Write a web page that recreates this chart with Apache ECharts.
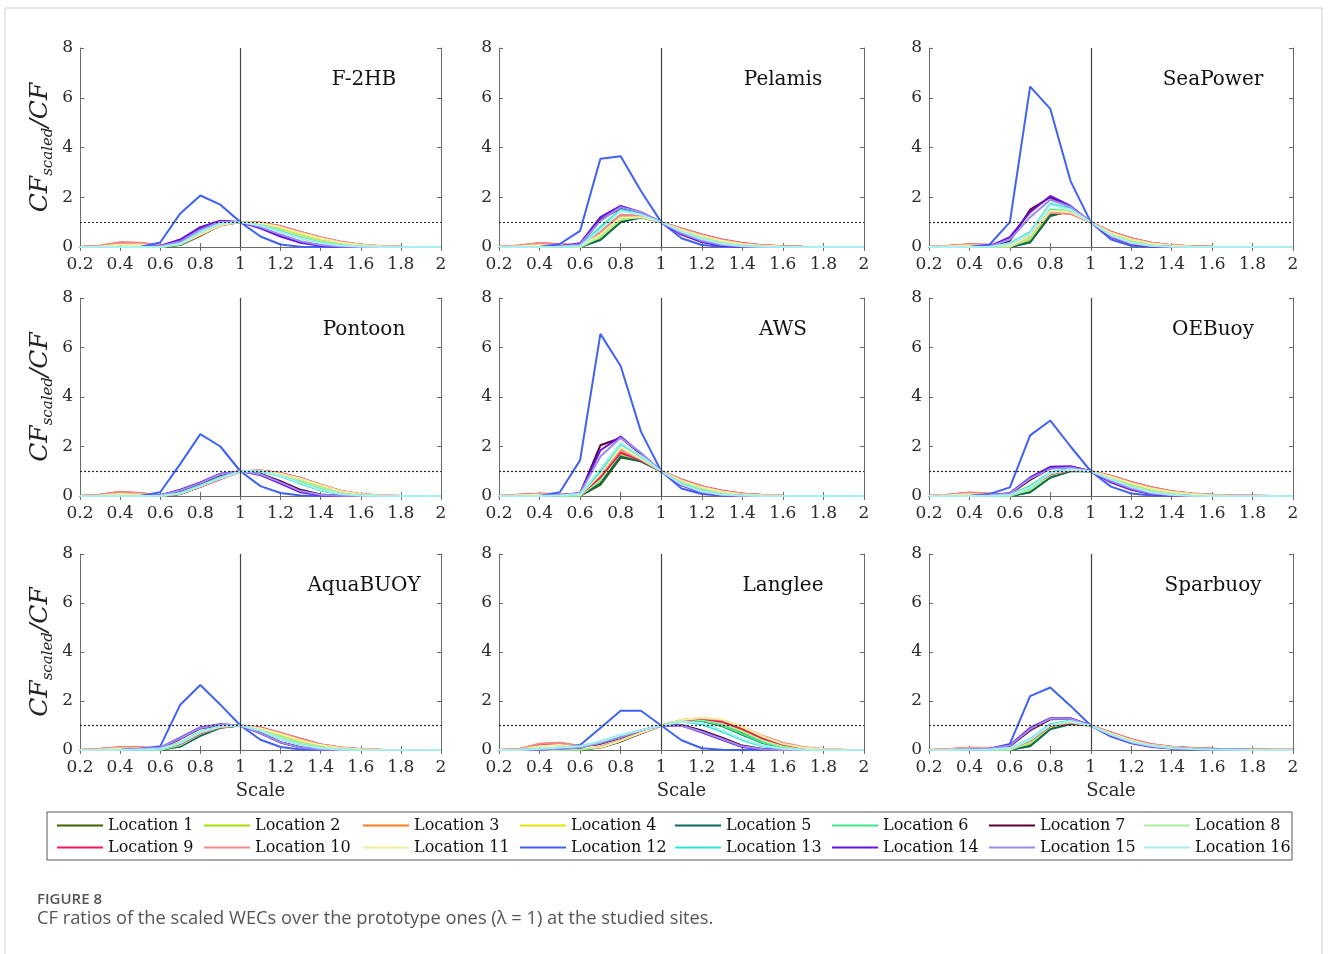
<!DOCTYPE html>
<html><head><meta charset="utf-8">
<script src="https://cdn.jsdelivr.net/npm/echarts@6/dist/echarts.min.js"></script>
<style>html,body{margin:0;padding:0;background:#fff}#c{width:1328px;height:954px}</style>
</head><body><div id="c"></div>
<script>
// ---------------- DATA ----------------
const scales = [0.2,0.3,0.4,0.5,0.6,0.7,0.8,0.9,1.0,1.1,1.2,1.3,1.4,1.5,1.6,1.7,1.8,1.9,2.0];
const xTicks = [0.2,0.4,0.6,0.8,1,1.2,1.4,1.6,1.8,2];
const yTicks = [0,2,4,6,8];
const locations = ['Location 1','Location 2','Location 3','Location 4','Location 5','Location 6','Location 7','Location 8',
  'Location 9','Location 10','Location 11','Location 12','Location 13','Location 14','Location 15','Location 16'];
const colors = ['#3f5c00','#a6e000','#ff7a1a','#e4e400','#0b6b5c','#3ee68a','#5c0036','#a8f0a0',
  '#f0145a','#f08a8a','#f0f0a0','#3f63f0','#2de6d2','#6a10e6','#9c8cf0','#a8f0f0'];
const panelNames = ['F-2HB','Pelamis','SeaPower','Pontoon','AWS','OEBuoy','AquaBUOY','Langlee','Sparbuoy'];

// each panel: 16 rows (Location 1..16), 19 values over scales
const F2HB = [
[0,0,0,0,0,0.08,0.45,0.88,1,0.92,0.7,0.45,0.25,0.1,0.03,0.01,0,0,0],
[0,0,0,0,0,0.1,0.5,0.9,1,0.9,0.68,0.42,0.22,0.09,0.03,0.01,0,0,0],
[0,0.05,0.18,0.15,0.05,0.12,0.5,0.88,1,0.97,0.82,0.58,0.37,0.2,0.09,0.03,0.01,0,0],
[0,0,0.01,0.01,0,0.1,0.48,0.9,1,0.93,0.72,0.47,0.26,0.11,0.04,0.01,0,0,0],
[0,0,0,0,0,0.09,0.5,0.92,1,0.9,0.66,0.4,0.2,0.08,0.02,0,0,0,0],
[0,0,0,0,0,0.12,0.55,0.93,1,0.88,0.64,0.38,0.19,0.07,0.02,0,0,0,0],
[0,0,0,0,0.03,0.25,0.75,1.05,1,0.78,0.45,0.2,0.07,0.02,0,0,0,0,0],
[0,0,0,0,0,0.11,0.52,0.9,1,0.91,0.69,0.44,0.23,0.1,0.03,0.01,0,0,0],
[0,0.04,0.17,0.16,0.06,0.13,0.48,0.87,1,0.98,0.84,0.6,0.38,0.2,0.09,0.03,0.01,0,0],
[0,0.05,0.19,0.17,0.07,0.14,0.5,0.86,1,0.99,0.83,0.6,0.39,0.22,0.1,0.04,0.01,0,0],
[0,0.02,0.1,0.1,0.04,0.12,0.5,0.88,1,0.96,0.8,0.56,0.35,0.18,0.08,0.03,0.01,0,0],
[0,0,0,0,0.18,1.35,2.07,1.7,1,0.42,0.1,0.01,0,0,0,0,0,0,0],
[0,0,0,0,0.01,0.15,0.6,0.95,1,0.87,0.62,0.36,0.17,0.06,0.02,0,0,0,0],
[0,0,0,0,0.04,0.3,0.8,1.06,1,0.75,0.42,0.17,0.05,0.01,0,0,0,0,0],
[0,0,0,0,0.03,0.22,0.7,1.02,1,0.8,0.5,0.23,0.08,0.02,0,0,0,0,0],
[0,0,0,0,0,0.13,0.58,0.94,1,0.86,0.6,0.35,0.16,0.06,0.02,0,0,0,0]];

const Pelamis = [
[0,0,0,0,0,0.3,1.0,1.2,1,0.66,0.38,0.18,0.07,0.02,0.01,0,0,0,0],
[0,0,0,0,0,0.35,1.05,1.2,1,0.65,0.37,0.17,0.07,0.02,0.01,0,0,0,0],
[0,0.05,0.14,0.1,0.05,0.6,1.3,1.25,1,0.72,0.47,0.27,0.14,0.06,0.03,0.01,0,0,0],
[0,0,0,0,0,0.4,1.1,1.22,1,0.67,0.4,0.2,0.08,0.03,0.01,0,0,0,0],
[0,0,0,0,0,0.28,1.0,1.18,1,0.64,0.36,0.16,0.06,0.02,0,0,0,0,0],
[0,0,0,0,0,0.45,1.15,1.22,1,0.64,0.36,0.16,0.06,0.02,0,0,0,0,0],
[0,0,0,0.02,0.08,1.1,1.55,1.35,1,0.52,0.22,0.06,0.01,0,0,0,0,0,0],
[0,0,0,0,0,0.42,1.12,1.21,1,0.66,0.38,0.18,0.07,0.02,0.01,0,0,0,0],
[0,0.06,0.15,0.11,0.05,0.55,1.25,1.25,1,0.75,0.5,0.3,0.16,0.07,0.03,0.01,0,0,0],
[0,0.06,0.16,0.12,0.06,0.6,1.3,1.25,1,0.74,0.49,0.29,0.15,0.07,0.03,0.01,0,0,0],
[0,0.03,0.08,0.06,0.03,0.5,1.2,1.2,1,0.7,0.45,0.25,0.12,0.05,0.02,0.01,0,0,0],
[0,0,0,0.12,0.65,3.55,3.65,2.25,1,0.35,0.08,0.01,0,0,0,0,0,0,0],
[0,0,0,0.01,0.05,0.8,1.5,1.35,1,0.6,0.3,0.12,0.04,0.01,0,0,0,0,0],
[0,0,0,0.03,0.15,1.2,1.65,1.4,1,0.5,0.2,0.05,0.01,0,0,0,0,0,0],
[0,0,0,0.02,0.1,1.05,1.6,1.4,1,0.55,0.25,0.08,0.02,0,0,0,0,0,0],
[0,0,0,0.01,0.04,0.7,1.45,1.3,1,0.62,0.32,0.13,0.04,0.01,0,0,0,0,0]];

const SeaPower = [
[0,0,0,0,0,0.2,1.25,1.45,1,0.5,0.22,0.08,0.02,0.01,0,0,0,0,0],
[0,0,0,0,0,0.3,1.35,1.48,1,0.5,0.22,0.08,0.02,0.01,0,0,0,0,0],
[0,0.04,0.1,0.08,0.06,0.5,1.4,1.35,1,0.6,0.33,0.16,0.07,0.03,0.01,0,0,0,0],
[0,0,0,0,0,0.35,1.4,1.48,1,0.52,0.24,0.09,0.03,0.01,0,0,0,0,0],
[0,0,0,0,0,0.18,1.28,1.45,1,0.49,0.2,0.07,0.02,0,0,0,0,0,0],
[0,0,0,0,0.02,0.4,1.5,1.5,1,0.48,0.2,0.07,0.02,0,0,0,0,0,0],
[0,0,0,0.02,0.25,1.5,2.0,1.6,1,0.42,0.13,0.03,0,0,0,0,0,0,0],
[0,0,0,0,0.01,0.35,1.45,1.5,1,0.5,0.21,0.08,0.02,0.01,0,0,0,0,0],
[0,0.05,0.1,0.08,0.05,0.45,1.42,1.35,1,0.62,0.35,0.17,0.07,0.03,0.01,0,0,0,0],
[0,0.05,0.11,0.09,0.06,0.5,1.38,1.33,1,0.61,0.34,0.17,0.07,0.03,0.01,0,0,0,0],
[0,0.03,0.06,0.05,0.04,0.45,1.45,1.4,1,0.57,0.3,0.14,0.06,0.02,0.01,0,0,0,0],
[0,0,0,0.1,1.0,6.45,5.55,2.65,1,0.3,0.05,0.01,0,0,0,0,0,0,0],
[0,0,0,0.01,0.15,0.6,1.75,1.55,1,0.45,0.16,0.05,0.01,0,0,0,0,0,0],
[0,0,0,0.03,0.4,1.4,2.05,1.65,1,0.4,0.12,0.03,0,0,0,0,0,0,0],
[0,0,0,0.02,0.3,1.2,1.9,1.62,1,0.43,0.14,0.04,0.01,0,0,0,0,0,0],
[0,0,0,0.01,0.12,0.55,1.7,1.5,1,0.47,0.17,0.05,0.01,0,0,0,0,0,0]];

const Pontoon = [
[0,0,0,0,0,0.08,0.38,0.72,1,1.0,0.86,0.62,0.35,0.14,0.04,0.01,0,0,0],
[0,0,0,0,0,0.1,0.4,0.73,1,1.0,0.85,0.6,0.33,0.13,0.04,0.01,0,0,0],
[0,0.04,0.15,0.1,0.02,0.1,0.38,0.7,1,1.02,0.92,0.72,0.45,0.2,0.07,0.02,0,0,0],
[0,0,0,0,0,0.1,0.4,0.72,1,1.01,0.88,0.66,0.4,0.17,0.05,0.01,0,0,0],
[0,0,0,0,0,0.08,0.38,0.72,1,0.99,0.84,0.58,0.3,0.11,0.03,0,0,0,0],
[0,0,0,0,0,0.11,0.42,0.74,1,0.99,0.83,0.57,0.3,0.11,0.03,0,0,0,0],
[0,0,0,0,0.02,0.2,0.5,0.85,1,0.9,0.6,0.25,0.06,0.01,0,0,0,0,0],
[0,0,0,0,0,0.1,0.41,0.73,1,1.0,0.86,0.62,0.35,0.14,0.04,0.01,0,0,0],
[0,0.05,0.16,0.11,0.02,0.09,0.37,0.68,1,1.03,0.93,0.73,0.46,0.2,0.07,0.02,0,0,0],
[0,0.05,0.17,0.12,0.03,0.1,0.38,0.7,1,1.02,0.92,0.72,0.46,0.21,0.08,0.02,0,0,0],
[0,0.02,0.08,0.06,0.01,0.1,0.4,0.72,1,1.02,0.9,0.7,0.44,0.19,0.07,0.02,0,0,0],
[0,0,0,0,0.15,1.3,2.5,2.0,1,0.4,0.12,0.02,0,0,0,0,0,0,0],
[0,0,0,0,0.01,0.12,0.42,0.75,1,1.0,0.8,0.5,0.22,0.07,0.02,0,0,0,0],
[0,0,0,0,0.03,0.25,0.55,0.9,1,0.85,0.5,0.15,0.03,0,0,0,0,0,0],
[0,0,0,0,0.03,0.22,0.52,0.88,1,0.88,0.55,0.2,0.05,0.01,0,0,0,0,0],
[0,0,0,0,0.01,0.1,0.4,0.72,1,1.0,0.82,0.53,0.25,0.08,0.02,0,0,0,0]];

const AWS = [
[0,0,0,0,0.01,0.45,1.55,1.4,1,0.56,0.27,0.1,0.03,0.01,0,0,0,0,0],
[0,0,0,0,0.01,0.6,1.7,1.45,1,0.56,0.27,0.1,0.03,0.01,0,0,0,0,0],
[0,0.04,0.08,0.07,0.05,0.8,1.8,1.45,1,0.65,0.38,0.2,0.09,0.04,0.01,0,0,0,0],
[0,0,0,0,0.01,0.7,1.8,1.48,1,0.58,0.29,0.11,0.03,0.01,0,0,0,0,0],
[0,0,0,0,0.01,0.5,1.6,1.4,1,0.55,0.26,0.1,0.03,0.01,0,0,0,0,0],
[0,0,0,0,0.02,0.75,1.9,1.5,1,0.54,0.25,0.09,0.03,0.01,0,0,0,0,0],
[0,0,0,0.03,0.1,2.05,2.35,1.7,1,0.45,0.15,0.04,0.01,0,0,0,0,0,0],
[0,0,0,0,0.02,0.65,1.75,1.46,1,0.56,0.27,0.1,0.03,0.01,0,0,0,0,0],
[0,0.05,0.09,0.08,0.05,0.75,1.75,1.45,1,0.67,0.4,0.21,0.1,0.04,0.01,0,0,0,0],
[0,0.05,0.09,0.08,0.06,0.85,1.85,1.48,1,0.66,0.39,0.2,0.09,0.04,0.01,0,0,0,0],
[0,0.03,0.05,0.05,0.04,0.9,1.95,1.5,1,0.62,0.35,0.17,0.07,0.03,0.01,0,0,0,0],
[0,0,0,0.15,1.45,6.55,5.25,2.6,1,0.3,0.08,0.01,0,0,0,0,0,0,0],
[0,0,0,0.02,0.08,1.0,2.1,1.6,1,0.5,0.2,0.06,0.02,0,0,0,0,0,0],
[0,0,0,0.03,0.12,1.85,2.4,1.72,1,0.43,0.14,0.04,0.01,0,0,0,0,0,0],
[0,0,0,0.03,0.12,1.6,2.35,1.75,1,0.45,0.15,0.04,0.01,0,0,0,0,0,0],
[0,0,0,0.02,0.08,1.1,2.15,1.62,1,0.48,0.19,0.06,0.02,0,0,0,0,0,0]];

const OEBuoy = [
[0,0,0,0,0,0.15,0.75,1.02,1,0.72,0.43,0.21,0.08,0.03,0.01,0,0,0,0],
[0,0,0,0,0,0.2,0.8,1.03,1,0.72,0.42,0.2,0.08,0.03,0.01,0,0,0,0],
[0,0.05,0.12,0.08,0.04,0.42,0.9,1.05,1,0.8,0.55,0.33,0.18,0.09,0.04,0.02,0.01,0,0],
[0,0,0,0,0.01,0.25,0.85,1.05,1,0.74,0.45,0.23,0.09,0.03,0.01,0,0,0,0],
[0,0,0,0,0,0.15,0.75,1.0,1,0.7,0.4,0.19,0.07,0.02,0.01,0,0,0,0],
[0,0,0,0,0.01,0.3,0.88,1.06,1,0.7,0.4,0.19,0.07,0.02,0.01,0,0,0,0],
[0,0,0,0.02,0.08,0.65,1.12,1.18,1,0.58,0.27,0.09,0.02,0,0,0,0,0,0],
[0,0,0,0,0.01,0.25,0.85,1.04,1,0.72,0.42,0.21,0.08,0.03,0.01,0,0,0,0],
[0,0.05,0.13,0.09,0.04,0.38,0.88,1.04,1,0.82,0.57,0.35,0.19,0.1,0.05,0.02,0.01,0,0],
[0,0.06,0.14,0.1,0.05,0.4,0.9,1.05,1,0.81,0.56,0.34,0.19,0.1,0.05,0.02,0.01,0,0],
[0,0.03,0.07,0.05,0.03,0.45,0.92,1.06,1,0.78,0.52,0.3,0.16,0.08,0.03,0.01,0,0,0],
[0,0,0,0.08,0.35,2.45,3.05,2.0,1,0.38,0.1,0.02,0,0,0,0,0,0,0],
[0,0,0,0.01,0.04,0.4,0.95,1.1,1,0.65,0.35,0.14,0.04,0.01,0,0,0,0,0],
[0,0,0,0.03,0.12,0.75,1.18,1.2,1,0.55,0.25,0.08,0.02,0,0,0,0,0,0],
[0,0,0,0.03,0.1,0.7,1.1,1.15,1,0.6,0.3,0.1,0.03,0,0,0,0,0,0],
[0,0,0,0.01,0.04,0.35,0.92,1.08,1,0.67,0.37,0.15,0.05,0.01,0,0,0,0,0]];

const AquaBUOY = [
[0,0,0,0,0.01,0.15,0.6,0.92,1,0.82,0.55,0.3,0.12,0.04,0.01,0,0,0,0],
[0,0,0,0,0.01,0.18,0.62,0.93,1,0.82,0.54,0.29,0.12,0.04,0.01,0,0,0,0],
[0,0.04,0.1,0.09,0.06,0.28,0.7,0.95,1,0.9,0.68,0.44,0.22,0.09,0.03,0.01,0,0,0],
[0,0,0,0,0.01,0.2,0.65,0.94,1,0.84,0.57,0.32,0.14,0.05,0.01,0,0,0,0],
[0,0,0,0,0.01,0.14,0.58,0.91,1,0.81,0.52,0.27,0.11,0.03,0.01,0,0,0,0],
[0,0,0,0,0.02,0.22,0.68,0.95,1,0.8,0.5,0.26,0.1,0.03,0.01,0,0,0,0],
[0,0,0,0.03,0.08,0.45,0.88,1.02,1,0.7,0.32,0.11,0.03,0,0,0,0,0,0],
[0,0,0,0,0.01,0.2,0.66,0.94,1,0.82,0.54,0.29,0.12,0.04,0.01,0,0,0,0],
[0,0.04,0.1,0.1,0.06,0.25,0.68,0.94,1,0.92,0.7,0.46,0.23,0.1,0.03,0.01,0,0,0],
[0,0.05,0.11,0.1,0.07,0.27,0.7,0.95,1,0.91,0.7,0.45,0.23,0.1,0.04,0.01,0,0,0],
[0,0.02,0.06,0.06,0.04,0.3,0.72,0.96,1,0.88,0.65,0.4,0.2,0.08,0.03,0.01,0,0,0],
[0,0,0,0.05,0.15,1.85,2.65,1.85,1,0.42,0.12,0.02,0,0,0,0,0,0,0],
[0,0,0,0.02,0.04,0.3,0.75,0.98,1,0.78,0.45,0.2,0.06,0.02,0,0,0,0,0],
[0,0,0,0.04,0.1,0.5,0.92,1.05,1,0.68,0.3,0.1,0.02,0,0,0,0,0,0],
[0,0,0,0.04,0.1,0.48,0.9,1.04,1,0.69,0.31,0.1,0.02,0,0,0,0,0,0],
[0,0,0,0.02,0.04,0.28,0.73,0.97,1,0.79,0.46,0.21,0.07,0.02,0,0,0,0,0]];

const Langlee = [
[0,0,0,0,0.02,0.1,0.35,0.68,1,1.18,1.22,1.05,0.7,0.33,0.12,0.03,0.01,0,0],
[0,0,0,0,0.02,0.12,0.38,0.7,1,1.2,1.25,1.1,0.78,0.4,0.15,0.04,0.01,0,0],
[0,0.03,0.25,0.3,0.15,0.12,0.4,0.7,1,1.22,1.3,1.2,0.92,0.55,0.27,0.1,0.03,0.01,0],
[0,0,0,0,0.02,0.12,0.38,0.7,1,1.22,1.3,1.2,0.9,0.5,0.2,0.06,0.02,0,0],
[0,0,0,0,0.02,0.1,0.35,0.68,1,1.16,1.18,0.98,0.62,0.28,0.09,0.02,0,0,0],
[0,0,0,0,0.03,0.13,0.4,0.72,1,1.18,1.2,1.0,0.65,0.3,0.1,0.03,0.01,0,0],
[0,0,0.01,0.04,0.08,0.25,0.5,0.78,1,1.02,0.8,0.5,0.18,0.04,0.01,0,0,0,0],
[0,0,0,0,0.02,0.12,0.38,0.7,1,1.2,1.24,1.08,0.75,0.38,0.14,0.04,0.01,0,0],
[0,0.03,0.22,0.28,0.15,0.1,0.38,0.68,1,1.2,1.28,1.15,0.85,0.48,0.22,0.08,0.02,0,0],
[0,0.04,0.26,0.3,0.16,0.12,0.4,0.7,1,1.22,1.3,1.22,0.95,0.58,0.3,0.12,0.04,0.01,0],
[0,0.02,0.15,0.2,0.12,0.1,0.38,0.7,1,1.22,1.32,1.25,0.95,0.55,0.25,0.09,0.03,0.01,0],
[0,0,0.02,0.05,0.2,0.9,1.6,1.6,1,0.4,0.07,0.01,0,0,0,0,0,0,0],
[0,0,0.05,0.1,0.15,0.35,0.6,0.8,1,1.15,1.05,0.75,0.4,0.15,0.04,0.01,0,0,0],
[0,0,0.02,0.05,0.1,0.3,0.55,0.8,1,1.0,0.72,0.42,0.12,0.02,0,0,0,0,0],
[0,0,0.02,0.05,0.1,0.28,0.52,0.8,1,1.0,0.75,0.45,0.15,0.03,0,0,0,0,0],
[0,0,0.05,0.1,0.15,0.35,0.6,0.8,1,1.15,1.1,0.8,0.45,0.18,0.05,0.01,0,0,0]];

const Sparbuoy = [
[0,0,0,0,0.01,0.18,0.88,1.08,1,0.66,0.36,0.18,0.09,0.05,0.03,0.02,0.01,0,0],
[0,0,0,0,0.01,0.25,0.92,1.1,1,0.66,0.36,0.18,0.09,0.05,0.03,0.02,0.01,0,0],
[0,0.03,0.08,0.08,0.06,0.4,1.0,1.12,1,0.7,0.42,0.22,0.12,0.07,0.05,0.03,0.02,0.01,0.01],
[0,0,0,0,0.01,0.3,0.95,1.12,1,0.68,0.38,0.19,0.1,0.05,0.03,0.02,0.01,0,0],
[0,0,0,0,0.01,0.15,0.85,1.06,1,0.65,0.35,0.17,0.08,0.04,0.02,0.01,0,0,0],
[0,0,0,0,0.02,0.35,1.0,1.15,1,0.64,0.34,0.17,0.08,0.04,0.02,0.01,0,0,0],
[0,0,0.02,0.04,0.15,0.8,1.25,1.28,1,0.62,0.32,0.15,0.08,0.04,0.02,0.01,0,0,0],
[0,0,0,0,0.01,0.3,0.96,1.12,1,0.66,0.36,0.18,0.09,0.05,0.03,0.02,0.01,0,0],
[0,0.03,0.08,0.08,0.06,0.38,0.98,1.1,1,0.72,0.44,0.24,0.13,0.08,0.05,0.03,0.02,0.01,0.01],
[0,0.04,0.09,0.09,0.07,0.4,1.0,1.12,1,0.71,0.43,0.23,0.13,0.08,0.05,0.03,0.02,0.01,0.01],
[0,0.02,0.05,0.05,0.04,0.42,1.02,1.14,1,0.68,0.4,0.2,0.11,0.06,0.04,0.02,0.01,0.01,0],
[0,0,0.01,0.05,0.25,2.2,2.55,1.8,1,0.55,0.27,0.12,0.06,0.03,0.02,0.01,0,0,0],
[0,0,0.01,0.02,0.08,0.45,1.05,1.2,1,0.62,0.33,0.16,0.08,0.04,0.02,0.01,0,0,0],
[0,0,0.02,0.05,0.2,0.9,1.3,1.3,1,0.6,0.3,0.14,0.07,0.04,0.02,0.01,0,0,0],
[0,0,0.02,0.05,0.18,0.85,1.28,1.28,1,0.61,0.31,0.15,0.07,0.04,0.02,0.01,0,0,0],
[0,0,0.01,0.02,0.08,0.42,1.02,1.18,1,0.63,0.34,0.17,0.08,0.04,0.02,0.01,0,0,0]];

const panelData = [F2HB, Pelamis, SeaPower, Pontoon, AWS, OEBuoy, AquaBUOY, Langlee, Sparbuoy];

// ---------------- LAYOUT ----------------
const gridLeft = [80, 499, 929], gridW = [361, 365, 364];
const gridTop = [48, 298, 554], gridH = [199, 198, 196];
const SERIF = 'DejaVu Serif';
const legendLeft = [52, 199, 358, 515, 670, 827, 984, 1139];

const grids = [], xAxes = [], yAxes = [], series = [], graphics = [];
const axisCol = '#6a6a6a';
const tickLabel = {fontFamily: SERIF, fontSize: 17, color: '#2a2a2a'};
for (let k = 0; k < 9; k++) {
  const r = Math.floor(k / 3), c = k % 3;
  grids.push({left: gridLeft[c], top: gridTop[r], width: gridW[c], height: gridH[r], containLabel: false});
  const xBase = {type: 'value', gridIndex: k, min: 0.2, max: 2, interval: 0.2,
    axisLine: {show: true, lineStyle: {color: axisCol, width: 1}},
    axisTick: {show: true, inside: true, length: 4, lineStyle: {color: axisCol}},
    splitLine: {show: false}};
  xAxes.push(Object.assign({}, xBase, {position: 'bottom',
    axisLabel: Object.assign({show: true, margin: 9}, tickLabel),
    name: r === 2 ? 'Scale' : '', nameLocation: 'middle', nameGap: 32,
    nameTextStyle: {fontFamily: SERIF, fontSize: 18, color: '#2a2a2a'}}));
  xAxes.push(Object.assign({}, xBase, {position: 'top', axisLabel: {show: false}}));
  const yBase = {type: 'value', gridIndex: k, min: 0, max: 8, interval: 2,
    axisLine: {show: true, lineStyle: {color: axisCol, width: 1}},
    axisTick: {show: true, inside: true, length: 4, lineStyle: {color: axisCol}},
    splitLine: {show: false}};
  yAxes.push(Object.assign({}, yBase, {position: 'left',
    axisLabel: Object.assign({show: true, margin: 7}, tickLabel),
    name: c === 0 ? '{i|CF}{s|scaled}{i|/CF}' : '', nameLocation: 'middle', nameGap: 24, nameRotate: 90,
    nameTextStyle: {rich: {
      i: {fontFamily: SERIF, fontStyle: 'italic', fontSize: 25, color: '#222', lineHeight: 32, verticalAlign: 'middle'},
      s: {fontFamily: SERIF, fontStyle: 'italic', fontSize: 15, color: '#222', lineHeight: 15, verticalAlign: 'bottom'}}}}));
  yAxes.push(Object.assign({}, yBase, {position: 'right', axisLabel: {show: false}}));

  const rows = panelData[k];
  for (let j = 0; j < 16; j++) {
    const s = {
      type: 'line', name: locations[j], xAxisIndex: 2 * k, yAxisIndex: 2 * k,
      data: scales.map((x, i) => [x, rows[j][i]]),
      showSymbol: false, symbol: 'none', animation: false,
      lineStyle: {color: colors[j], width: 2}, itemStyle: {color: colors[j]}, z: 3
    };
    if (j === 0) {
      s.markLine = {silent: true, symbol: 'none', animation: false, label: {show: false},
        data: [
          {xAxis: 1, lineStyle: {color: '#444', width: 1.2, type: 'solid'}},
          {yAxis: 1, lineStyle: {color: '#222', width: 1.2, type: [2, 2]}}
        ]};
    }
    series.push(s);
  }
  graphics.push({type: 'text', x: gridLeft[c] + 284, y: gridTop[r] + 32,
    style: {text: panelNames[k], textAlign: 'center', textVerticalAlign: 'middle',
      font: '20px "DejaVu Serif"', fill: '#111'}});
}

const legends = legendLeft.map((lx, i) => ({
  orient: 'vertical', left: lx, top: 812, itemWidth: 46, itemHeight: 2, itemGap: 5, icon: 'rect',
  data: [locations[i], locations[i + 8]], selectedMode: false,
  textStyle: {fontFamily: SERIF, fontSize: 16, color: '#111', lineHeight: 17}
}));

graphics.push({type: 'rect', shape: {x: 47, y: 812, width: 1245, height: 48},
  style: {fill: 'none', stroke: '#555', lineWidth: 1}, z: -1});
graphics.push({type: 'rect', shape: {x: 5, y: 8, width: 1317, height: 960},
  style: {fill: 'none', stroke: '#cfcfcf', lineWidth: 1}, z: -2});
graphics.push({type: 'text', x: 37, y: 900, style: {text: 'FIGURE 8', textVerticalAlign: 'middle',
  font: '600 15px "Open Sans"', fill: '#555'}});
graphics.push({type: 'text', x: 37, y: 919, style: {text: 'CF ratios of the scaled WECs over the prototype ones (\u03bb = 1) at the studied sites.',
  textVerticalAlign: 'middle', font: '18.3px "Open Sans"', fill: '#555'}});

const chart = echarts.init(document.getElementById('c'), null, {renderer: 'canvas'});
chart.setOption({
  animation: false, backgroundColor: '#fff', textStyle: {fontFamily: SERIF},
  grid: grids, xAxis: xAxes, yAxis: yAxes, series: series, legend: legends, graphic: graphics
});
</script></body></html>
